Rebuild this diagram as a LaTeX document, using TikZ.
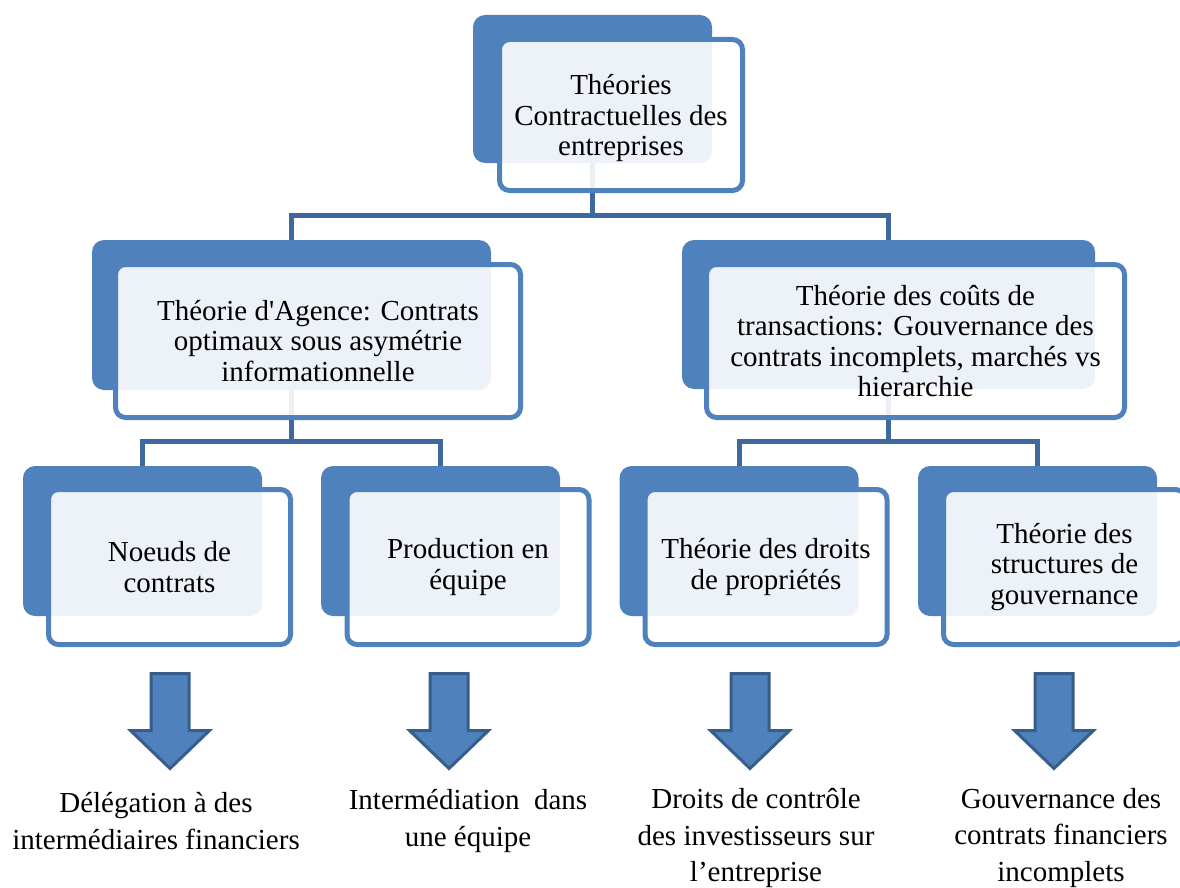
\documentclass[tikz,border=0pt]{standalone}
\usepackage{fontspec}
\setmainfont{Liberation Serif}
\definecolor{accent}{RGB}{79,129,189}
\definecolor{connc}{RGB}{62,104,158}
\definecolor{arrowline}{RGB}{56,93,138}
\begin{document}
\begin{tikzpicture}[x=1pt,y=-1pt,
  backbox/.style={rectangle,rounded corners=12pt,fill=accent,inner sep=0pt},
  frontbox/.style={rectangle,rounded corners=10pt,draw=accent,line width=5pt,fill=white,fill opacity=0.9,text opacity=1,inner sep=0pt,align=center,font=\fontsize{29}{30.5}\selectfont},
  conn/.style={draw=connc,line width=5pt},
  blockarrow/.style={fill=accent,draw=arrowline,line width=3pt,line join=miter},
  outtext/.style={align=center,inner sep=0pt,font=\fontsize{29}{36.5}\selectfont},
  pics/downarrow/.style={code={\draw[blockarrow] (-19,0) -- (19,0) -- (19,57) -- (39.5,57) -- (0,95) -- (-39.5,57) -- (-19,57) -- cycle;}}]
\useasboundingbox (0,0) rectangle (1180,888);
% back boxes
\node[backbox,minimum width=239pt,minimum height=148pt] (b0) at (592.5,89) {};
\node[backbox,minimum width=399pt,minimum height=150pt] (b1) at (291.5,315) {};
\node[backbox,minimum width=413pt,minimum height=149pt] (b2) at (888.5,314.5) {};
\node[backbox,minimum width=239pt,minimum height=150pt] (b11) at (142.5,541) {};
\node[backbox,minimum width=239pt,minimum height=150pt] (b12) at (440.5,541) {};
\node[backbox,minimum width=239pt,minimum height=150pt] (b21) at (739,541) {};
\node[backbox,minimum width=239pt,minimum height=150pt] (b22) at (1037.5,541) {};
% connectors
\draw[conn] (b0.south) -- ++(0,52) -| (b1.north);
\draw[conn] (b0.south) -- ++(0,52) -| (b2.north);
\draw[conn] (b1.south) -- ++(0,51) -| (b11.north);
\draw[conn] (b1.south) -- ++(0,51) -| (b12.north);
\draw[conn] (b2.south) -- ++(0,52) -| (b21.north);
\draw[conn] (b2.south) -- ++(0,52) -| (b22.north);
% front boxes
\node[frontbox,minimum width=243pt,minimum height=151pt,text depth=-6pt] (f0) at (621,115) {Théories\\Contractuelles des\\entreprises};
\node[frontbox,minimum width=405pt,minimum height=153pt] (f1) at (318,341) {Théorie d\textquotesingle Agence: Contrats\\optimaux sous asymétrie\\informationnelle};
\node[frontbox,minimum width=418pt,minimum height=153pt] (f2) at (915.5,341) {Théorie des coûts de\\transactions: Gouvernance des\\contrats incomplets, marchés vs\\hierarchie};
\node[frontbox,minimum width=242pt,minimum height=155pt] (f11) at (169.5,567) {Noeuds de\\contrats};
\node[frontbox,minimum width=242pt,minimum height=155pt] (f12) at (468,567) {Production en\\équipe};
\node[frontbox,minimum width=242pt,minimum height=155pt] (f21) at (766,567) {Théorie des droits\\de propriétés};
\node[frontbox,minimum width=242pt,minimum height=155pt] (f22) at (1064.5,567) {Théorie des\\structures de\\gouvernance};
% block arrows
\pic at (170,673.5) {downarrow};
\pic at (449,673.5) {downarrow};
\pic at (750,673.5) {downarrow};
\pic at (1054,673.5) {downarrow};
% outcome texts
\node[outtext] (t1) at (156,821) {Délégation à des\\intermédiaires financiers};
\node[outtext] (t2) at (468,821) {Intermédiation~ dans\\une équipe};
\node[outtext] (t3) at (756,838) {Droits de contrôle\\des investisseurs sur\\l’entreprise};
\node[outtext] (t4) at (1061,838) {Gouvernance des\\contrats financiers\\incomplets};
\end{tikzpicture}
\end{document}
